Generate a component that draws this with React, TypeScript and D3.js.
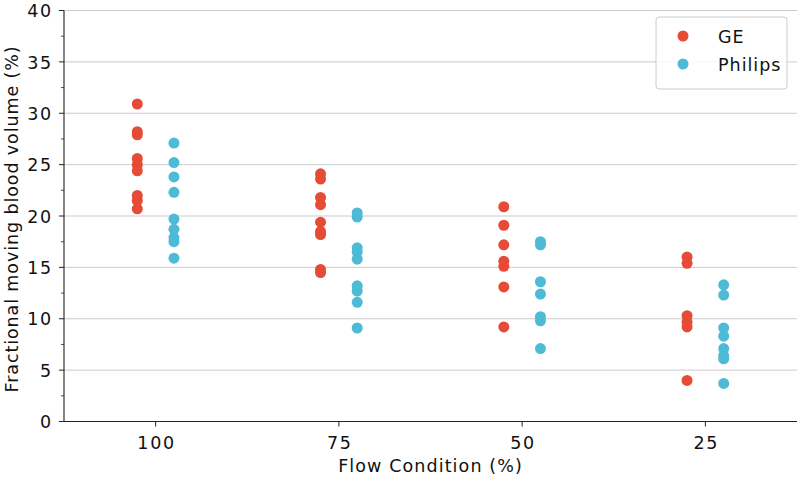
import React from "react";
import * as d3 from "d3";

const categories = ["100", "75", "50", "25"];
const series = ["GE", "Philips"];
const colors = ["#E64B35", "#4DBBD5"];

const geValues: number[][] = [
  [30.9, 28.2, 27.9, 25.6, 25.0, 24.4, 22.0, 21.5, 20.7],
  [24.1, 23.6, 21.8, 21.1, 19.4, 18.5, 18.2, 14.8, 14.5],
  [20.9, 19.1, 17.2, 15.6, 15.1, 13.1, 9.2],
  [16.0, 15.4, 10.3, 9.7, 9.2, 4.0],
];
const philipsValues: number[][] = [
  [27.1, 25.2, 23.8, 22.3, 19.7, 18.7, 17.9, 17.5, 15.9],
  [20.3, 19.9, 16.9, 16.5, 15.8, 13.2, 12.7, 11.6, 9.1],
  [17.5, 17.2, 13.6, 12.4, 10.2, 9.8, 7.1],
  [13.3, 12.3, 9.1, 8.3, 7.1, 6.4, 6.1, 3.7],
];
const yTicks = [0, 5, 10, 15, 20, 25, 30, 35, 40];
const yMinorTicks = [2.5, 7.5, 12.5, 17.5, 22.5, 27.5, 32.5, 37.5];

const W = 800;
const H = 477;
const left = 64;
const right = 797;
const top = 10.5;
const bottom = 421.5;
const font = "DejaVu Sans, sans-serif";
const fs = 17.5;

export default function App() {
  const x = d3.scaleLinear().domain([-0.5, categories.length - 0.5]).range([left, right]);
  const y = d3.scaleLinear().domain([0, 40]).range([bottom, top]);
  const dodge = 0.1;
  const allSeries = [geValues, philipsValues];

  return (
    <svg width={W} height={H} style={{ position: "absolute", left: 0, top: 0 }} fontFamily={font}>
      <rect x={0} y={0} width={W} height={H} fill="white" />
      {yTicks.map((t) => (
        <line key={"g" + t} x1={left} x2={right} y1={y(t)} y2={y(t)} stroke="#cbcbcb" strokeWidth={1} />
      ))}
      {allSeries.map((s, si) =>
        s.map((vals, ci) =>
          vals.map((v, vi) => (
            <circle
              key={`${si}-${ci}-${vi}`}
              cx={x(ci + (si === 0 ? -dodge : dodge))}
              cy={y(v)}
              r={5.5}
              fill={colors[si]}
            />
          ))
        )
      )}
      <line x1={left} x2={left} y1={top} y2={bottom} stroke="#222" strokeWidth={1.1} />
      <line x1={left} x2={right} y1={bottom} y2={bottom} stroke="#222" strokeWidth={1.1} />
      {yTicks.map((t) => (
        <g key={"yt" + t}>
          <line x1={left - 5} x2={left} y1={y(t)} y2={y(t)} stroke="#222" strokeWidth={1} />
          <text x={left - 11} y={y(t)} dy="0.38em" textAnchor="end" fontSize={fs} letterSpacing={1.8} fill="#111">
            {t}
          </text>
        </g>
      ))}
      {yMinorTicks.map((t) => (
        <line key={"ym" + t} x1={left - 3} x2={left} y1={y(t)} y2={y(t)} stroke="#222" strokeWidth={0.8} />
      ))}
      {categories.map((c, i) => (
        <g key={"xt" + c}>
          <line x1={x(i)} x2={x(i)} y1={bottom} y2={bottom + 5} stroke="#222" strokeWidth={1} />
          <text x={x(i) + 1} y={bottom + 27} textAnchor="middle" fontSize={fs} letterSpacing={1.8} fill="#111">
            {c}
          </text>
        </g>
      ))}
      <text x={(left + right) / 2} y={472} textAnchor="middle" fontSize={fs} letterSpacing={1.1} fill="#111">
        Flow Condition (%)
      </text>
      <text
        transform={`translate(18, ${(top + bottom) / 2 + 3}) rotate(-90)`}
        textAnchor="middle"
        fontSize={fs}
        letterSpacing={0.9}
        fill="#111"
      >
        Fractional moving blood volume (%)
      </text>
      <rect x={656} y={17} width={131} height={72} rx={3} fill="white" fillOpacity={0.85} stroke="#cccccc" />
      {series.map((s, i) => (
        <g key={"lg" + s}>
          <circle cx={683} cy={36 + i * 28} r={5.5} fill={colors[i]} />
          <text x={718} y={36 + i * 28} dy="0.38em" fontSize={fs} letterSpacing={1} fill="#111">
            {s}
          </text>
        </g>
      ))}
    </svg>
  );
}
